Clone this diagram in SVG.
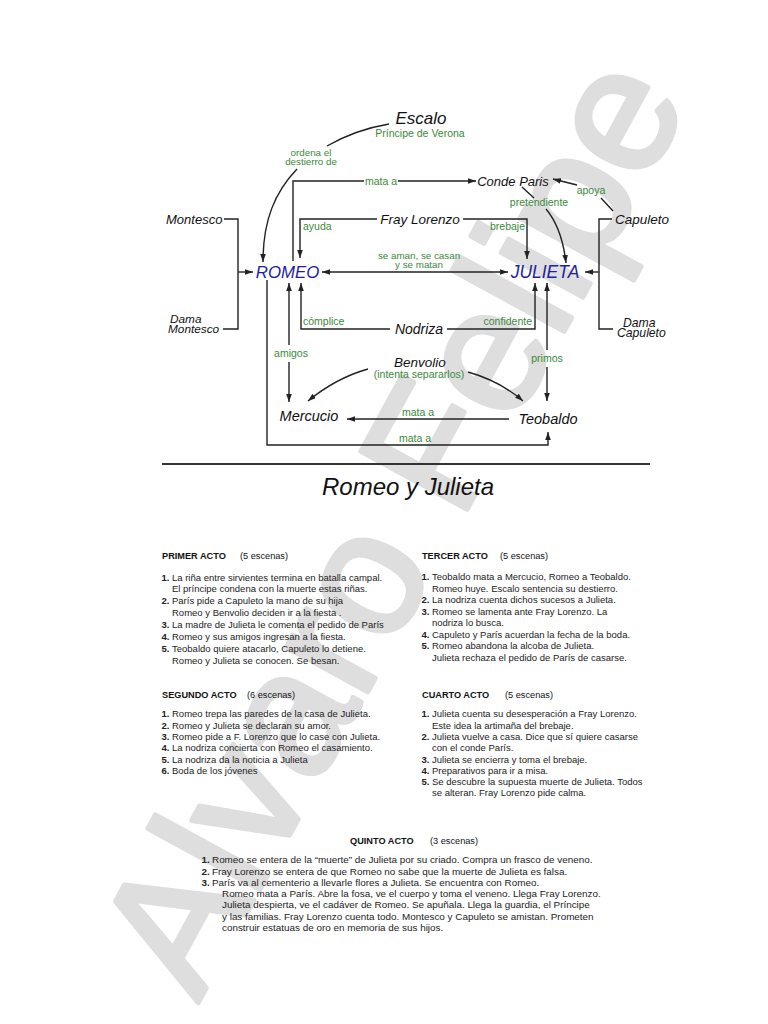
<svg xmlns="http://www.w3.org/2000/svg" width="768" height="1024" viewBox="0 0 768 1024">
<defs>
<style>
.wm{font-family:"Liberation Sans",Arial,sans-serif;font-size:176px;fill:#dedede;stroke:#dedede;stroke-width:5;stroke-linejoin:round}
.ln{fill:none;stroke:#222;stroke-width:1.4}
.nd{font-family:"Liberation Sans",Arial,sans-serif;font-style:italic;fill:#111;font-size:14px}
.hero{font-family:"Liberation Sans",Arial,sans-serif;font-style:italic;fill:#1f1f9e;font-size:17.5px}
.gl{font-family:"Liberation Sans",Arial,sans-serif;fill:#3a8a3a;font-size:10.5px}
.gs{font-family:"Liberation Sans",Arial,sans-serif;fill:#3a8a3a;font-size:9.8px}
.title{font-family:"Liberation Sans",Arial,sans-serif;font-style:italic;fill:#111;font-size:24px}
.hd{font-family:"Liberation Sans",Arial,sans-serif;font-weight:bold;fill:#111;font-size:9.2px}
.hn{font-family:"Liberation Sans",Arial,sans-serif;fill:#111;font-size:9.2px}
.tx{font-family:"Liberation Sans",Arial,sans-serif;fill:#222;font-size:9.5px}
.tx5{font-family:"Liberation Sans",Arial,sans-serif;fill:#222;font-size:9.9px}
.num{font-weight:bold}
</style>
<marker id="ah" viewBox="0 0 10 7" refX="10" refY="3.5" markerWidth="8" markerHeight="5.6" markerUnits="userSpaceOnUse" orient="auto-start-reverse">
<path d="M0,0 L10,3.5 L0,7 z" fill="#222"/>
</marker>
</defs>
<rect width="768" height="1024" fill="#fff"/>

<g id="watermark">
<text class="wm" transform="translate(198,1003) rotate(-61.4)">Alvaro Felipe</text>
</g>

<g id="connectors">
<path class="ln" d="M389,124 Q356,129.5 327,146"/>
<path class="ln" d="M297,169 C275,192 263,220 263,262" marker-end="url(#ah)"/>
<path class="ln" d="M293,261 V181 H364 M398,181 H476" marker-end="url(#ah)"/>
<path class="ln" d="M377,219 H300 V258" marker-end="url(#ah)"/>
<path class="ln" d="M463,219 H527 V259" marker-end="url(#ah)"/>
<path class="ln" d="M322,272 H508" marker-start="url(#ah)" marker-end="url(#ah)"/>
<path class="ln" d="M522,187 L534,198 M546,209 Q562,228 566,263" marker-end="url(#ah)"/>
<path class="ln" d="M613,211 L601,198 M577,185 L553,179" marker-end="url(#ah)"/>
<path class="ln" d="M224,219 H238 V329 H223"/>
<path class="ln" d="M238,272 H253" marker-end="url(#ah)"/>
<path class="ln" d="M612,219 H599 V329 H613"/>
<path class="ln" d="M599,272 H585" marker-end="url(#ah)"/>
<path class="ln" d="M289,283 V345 M289,362 V402" marker-start="url(#ah)" marker-end="url(#ah)"/>
<path class="ln" d="M390,329 H301 V283" marker-end="url(#ah)"/>
<path class="ln" d="M447,329 H535 V283" marker-end="url(#ah)"/>
<path class="ln" d="M547,283 V350 M547,367 V401" marker-start="url(#ah)" marker-end="url(#ah)"/>
<path class="ln" d="M368,369 Q336,378 308,401" marker-end="url(#ah)"/>
<path class="ln" d="M468,372 Q500,381 523,401" marker-end="url(#ah)"/>
<path class="ln" d="M509,419 H347" marker-end="url(#ah)"/>
<path class="ln" d="M267,280 V445 H548 V432" marker-end="url(#ah)"/>
<g id="connector-labels">
<text class="gs" x="311" y="156" text-anchor="middle">ordena el</text>
<text class="gs" x="311" y="165" text-anchor="middle">destierro de</text>
<text class="gl" x="381" y="185" text-anchor="middle">mata a</text>
<text class="gl" x="303" y="230">ayuda</text>
<text class="gl" x="525" y="230" text-anchor="end">brebaje</text>
<text class="gs" x="419" y="259" text-anchor="middle">se aman, se casan</text>
<text class="gs" x="419" y="267.5" text-anchor="middle">y se matan</text>
<text class="gl" x="539" y="206" text-anchor="middle">pretendiente</text>
<text class="gl" x="591" y="194" text-anchor="middle">apoya</text>
<text class="gl" x="303" y="325">cómplice</text>
<text class="gl" x="532" y="325" text-anchor="end">confidente</text>
<text class="gl" x="291" y="357" text-anchor="middle">amigos</text>
<text class="gl" x="547" y="362" text-anchor="middle">primos</text>
<text class="gl" x="418" y="416" text-anchor="middle">mata a</text>
<text class="gl" x="415" y="442" text-anchor="middle">mata a</text>
</g>
</g>

<g id="node-escalo">
<text class="nd" x="421" y="124" text-anchor="middle" style="font-size:17px">Escalo</text>
<text class="gl" x="420" y="136.5" text-anchor="middle">Príncipe de Verona</text>
</g>
<g id="node-conde-paris"><text class="nd" x="513" y="185.5" text-anchor="middle" style="font-size:13px">Conde Paris</text></g>
<g id="node-fray-lorenzo"><text class="nd" x="420" y="224" text-anchor="middle" style="font-size:13.5px">Fray Lorenzo</text></g>
<g id="node-montesco"><text class="nd" x="166" y="223.5" style="font-size:13px">Montesco</text></g>
<g id="node-dama-montesco">
<text class="nd" x="170" y="323" style="font-size:11.8px">Dama</text>
<text class="nd" x="168" y="333" style="font-size:11.8px">Montesco</text>
</g>
<g id="node-capuleto"><text class="nd" x="615" y="223.5" style="font-size:13.5px">Capuleto</text></g>
<g id="node-dama-capuleto">
<text class="nd" x="623" y="326.5" style="font-size:12.2px">Dama</text>
<text class="nd" x="617" y="337" style="font-size:12.2px">Capuleto</text>
</g>
<g id="node-romeo"><text class="hero" x="287.5" y="278" text-anchor="middle" style="font-size:16.8px">ROMEO</text></g>
<g id="node-julieta"><text class="hero" x="545" y="278" text-anchor="middle">JULIETA</text></g>
<g id="node-nodriza"><text class="nd" x="419" y="333.5" text-anchor="middle">Nodriza</text></g>
<g id="node-benvolio">
<text class="nd" x="420" y="367" text-anchor="middle" style="font-size:13.5px">Benvolio</text>
<text class="gl" x="419" y="377.5" text-anchor="middle">(intenta separarlos)</text>
</g>
<g id="node-mercucio"><text class="nd" x="309" y="421" text-anchor="middle" style="font-size:14.5px">Mercucio</text></g>
<g id="node-teobaldo"><text class="nd" x="548" y="424" text-anchor="middle" style="font-size:14.5px">Teobaldo</text></g>

<g id="separator"><line x1="162" y1="464" x2="650" y2="464" stroke="#333" stroke-width="2"/></g>
<g id="title"><text class="title" x="408" y="495" text-anchor="middle">Romeo y Julieta</text></g>

<g id="acto-1">
<text class="hd" x="162" y="558.5">PRIMER ACTO</text><text class="hn" x="240" y="558.5">(5 escenas)</text>
<text class="tx" y="580.5"><tspan class="num" x="161.5">1.</tspan><tspan x="172">La riña entre sirvientes termina en batalla campal.</tspan></text>
<text class="tx" x="172" y="592.4">El príncipe condena con la muerte estas riñas.</text>
<text class="tx" y="604.3"><tspan class="num" x="161.5">2.</tspan><tspan x="172">París pide a Capuleto la mano de su hija</tspan></text>
<text class="tx" x="172" y="616.2">Romeo y Benvolio deciden ir a la fiesta .</text>
<text class="tx" y="628.1"><tspan class="num" x="161.5">3.</tspan><tspan x="172">La madre de Julieta le comenta el pedido de París</tspan></text>
<text class="tx" y="640"><tspan class="num" x="161.5">4.</tspan><tspan x="172">Romeo y sus amigos ingresan a la fiesta.</tspan></text>
<text class="tx" y="651.9"><tspan class="num" x="161.5">5.</tspan><tspan x="172">Teobaldo quiere atacarlo, Capuleto lo detiene.</tspan></text>
<text class="tx" x="172" y="663.8">Romeo y Julieta se conocen. Se besan.</text>
</g>

<g id="acto-3">
<text class="hd" x="422" y="558.5">TERCER ACTO</text><text class="hn" x="500" y="558.5">(5 escenas)</text>
<text class="tx" y="580"><tspan class="num" x="421.5">1.</tspan><tspan x="432">Teobaldo mata a Mercucio, Romeo a Teobaldo.</tspan></text>
<text class="tx" x="432" y="591.6">Romeo huye. Escalo sentencia su destierro.</text>
<text class="tx" y="603.1"><tspan class="num" x="421.5">2.</tspan><tspan x="432">La nodriza cuenta dichos sucesos a Julieta.</tspan></text>
<text class="tx" y="614.7"><tspan class="num" x="421.5">3.</tspan><tspan x="432">Romeo se lamenta ante Fray Lorenzo. La</tspan></text>
<text class="tx" x="432" y="626.2">nodriza lo busca.</text>
<text class="tx" y="637.8"><tspan class="num" x="421.5">4.</tspan><tspan x="432">Capuleto y París acuerdan la fecha de la boda.</tspan></text>
<text class="tx" y="649.3"><tspan class="num" x="421.5">5.</tspan><tspan x="432">Romeo abandona la alcoba de Julieta.</tspan></text>
<text class="tx" x="432" y="660.9">Julieta rechaza el pedido de París de casarse.</text>
</g>

<g id="acto-2">
<text class="hd" x="162" y="697.5">SEGUNDO ACTO</text><text class="hn" x="247" y="697.5">(6 escenas)</text>
<text class="tx" y="717.3"><tspan class="num" x="161.5">1.</tspan><tspan x="172">Romeo trepa las paredes de la casa de Julieta.</tspan></text>
<text class="tx" y="728.6"><tspan class="num" x="161.5">2.</tspan><tspan x="172">Romeo y Julieta se declaran su amor.</tspan></text>
<text class="tx" y="739.9"><tspan class="num" x="161.5">3.</tspan><tspan x="172">Romeo pide a F. Lorenzo que lo case con Julieta.</tspan></text>
<text class="tx" y="751.2"><tspan class="num" x="161.5">4.</tspan><tspan x="172">La nodriza concierta con Romeo el casamiento.</tspan></text>
<text class="tx" y="762.5"><tspan class="num" x="161.5">5.</tspan><tspan x="172">La nodriza da la noticia a Julieta</tspan></text>
<text class="tx" y="773.8"><tspan class="num" x="161.5">6.</tspan><tspan x="172">Boda de los jóvenes</tspan></text>
</g>

<g id="acto-4">
<text class="hd" x="422" y="697.5">CUARTO ACTO</text><text class="hn" x="505" y="697.5">(5 escenas)</text>
<text class="tx" y="717.3"><tspan class="num" x="421.5">1.</tspan><tspan x="432">Julieta cuenta su desesperación a Fray Lorenzo.</tspan></text>
<text class="tx" x="432" y="728.6">Este idea la artimaña del brebaje.</text>
<text class="tx" y="739.9"><tspan class="num" x="421.5">2.</tspan><tspan x="432">Julieta vuelve a casa. Dice que sí quiere casarse</tspan></text>
<text class="tx" x="432" y="751.2">con el conde París.</text>
<text class="tx" y="762.5"><tspan class="num" x="421.5">3.</tspan><tspan x="432">Julieta se encierra y toma el brebaje.</tspan></text>
<text class="tx" y="773.8"><tspan class="num" x="421.5">4.</tspan><tspan x="432">Preparativos para ir a misa.</tspan></text>
<text class="tx" y="785.1"><tspan class="num" x="421.5">5.</tspan><tspan x="432">Se descubre la supuesta muerte de Julieta. Todos</tspan></text>
<text class="tx" x="432" y="796.4">se alteran. Fray Lorenzo pide calma.</text>
</g>

<g id="acto-5">
<text class="hd" x="350" y="843.5">QUINTO ACTO</text><text class="hn" x="430" y="843.5">(3 escenas)</text>
<text class="tx5" y="863.3"><tspan class="num" x="201.5">1.</tspan><tspan x="212">Romeo se entera de la “muerte” de Julieta por su criado. Compra un frasco de veneno.</tspan></text>
<text class="tx5" y="874.5"><tspan class="num" x="201.5">2.</tspan><tspan x="212">Fray Lorenzo se entera de que Romeo no sabe que la muerte de Julieta es falsa.</tspan></text>
<text class="tx5" y="885.8"><tspan class="num" x="201.5">3.</tspan><tspan x="212">París va al cementerio a llevarle flores a Julieta. Se encuentra con Romeo.</tspan></text>
<text class="tx5" x="222" y="897">Romeo mata a París. Abre la fosa, ve el cuerpo y toma el veneno. Llega Fray Lorenzo.</text>
<text class="tx5" x="222" y="908.3">Julieta despierta, ve el cadáver de Romeo. Se apuñala. Llega la guardia, el Príncipe</text>
<text class="tx5" x="222" y="919.5">y las familias. Fray Lorenzo cuenta todo. Montesco y Capuleto se amistan. Prometen</text>
<text class="tx5" x="222" y="930.8">construir estatuas de oro en memoria de sus hijos.</text>
</g>
</svg>
